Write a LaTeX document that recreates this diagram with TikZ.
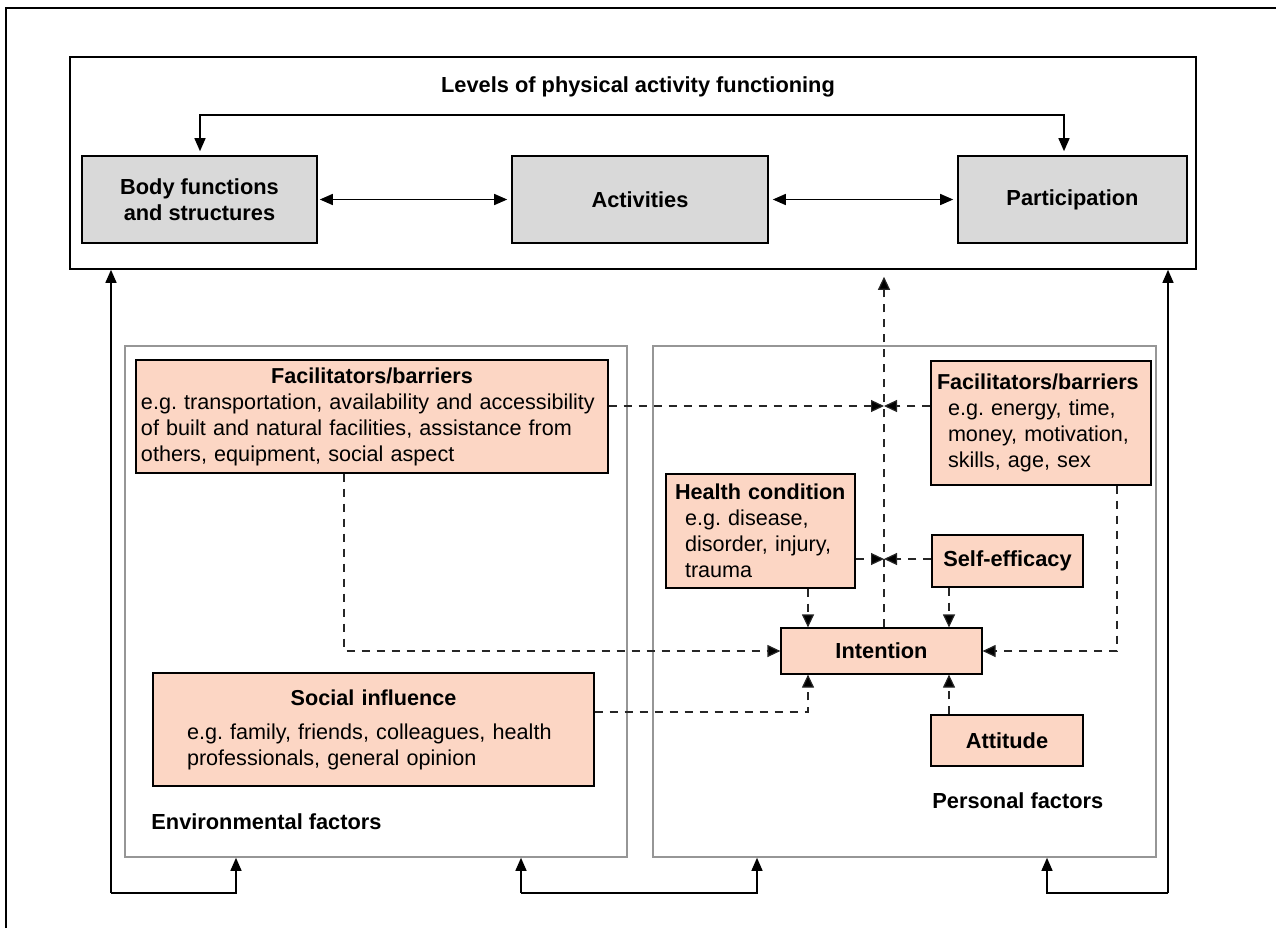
\documentclass[tikz,border=0pt]{standalone}
\usepackage{fontspec}
\setmainfont{Liberation Sans}
\usetikzlibrary{arrows.meta,calc}

\definecolor{levelgrey}{RGB}{217,217,217}
\definecolor{factorpink}{RGB}{252,214,196}
\definecolor{framegrey}{RGB}{150,150,150}

\tikzset{
  labelfont/.style={font=\fontsize{10.9}{13}\selectfont\bfseries},
  levelbox/.style={draw,fill=levelgrey,line width=0.8pt,labelfont,align=center,
    inner sep=0pt,minimum height=43.5pt},
  factorbox/.style={draw,fill=factorpink,line width=0.6pt,inner ysep=2pt,align=left},
  namebox/.style={factorbox,labelfont,align=center,inner sep=0pt},
  groupbox/.style={draw=framegrey,line width=0.8pt,minimum height=255.5pt},
  solidarrow/.style={line width=0.7pt,-{Triangle[length=6.5pt,width=5.5pt]}},
  botharrow/.style={line width=0.7pt,{Triangle[length=6.5pt,width=5.5pt]}-{Triangle[length=6.5pt,width=5.5pt]}},
  dasharrow/.style={line width=0.6pt,draw=black!85,dash pattern=on 4pt off 3.5pt,
    -{Triangle[length=6.5pt,width=6pt,fill=black]}},
}

\begin{document}
\frenchspacing
\hyphenpenalty=10000
\exhyphenpenalty=10000
\begin{tikzpicture}[x=0.5pt,y=-0.5pt,font=\fontsize{10.8}{13}\selectfont]
\useasboundingbox (0,0) rectangle (1276,928);

            \draw[line width=0.8pt] (6,928) -- (6,8) -- (1276,8);

            \coordinate (loop) at (638,115);
            \coordinate (meet1) at (884,406);
            \coordinate (meet2) at (884,559);
            \coordinate (colA) at (808,651);
            \coordinate (colB) at (949,651);
            \coordinate (envcol) at (344,651);
            \coordinate (perscol) at (1117,651);
            \coordinate (socrow) at (594,712);
            \coordinate (foot1) at (111,893);
            \coordinate (foot2) at (236,893);
            \coordinate (foot3) at (521,893);
            \coordinate (foot4) at (757,893);
            \coordinate (foot5) at (1047,893);
            \coordinate (foot6) at (1168,893);

            \node[draw,line width=0.8pt,minimum width=563pt,minimum height=106pt] (levels) at (633,163) {};
            \node[labelfont] (title) at (638,87) {Levels of physical activity functioning};
            \node[levelbox,minimum width=117.5pt] (body) at (199.5,199.5) {Body functions\\and structures};
            \node[levelbox,minimum width=128pt] (act) at (640,199.5) {Activities};
            \node[levelbox,minimum width=114.5pt] (part) at (1072.5,199.5) {Participation};

            \draw[botharrow,shorten <=2pt,shorten >=2pt] ([xshift=0.25pt]body.north) |- (loop) -| ([xshift=-4.25pt]part.north);
            \draw[botharrow,shorten <=1pt,shorten >=2pt] (body) -- (act);
            \draw[botharrow,shorten <=2pt,shorten >=2pt] (act) -- (part);

            \node[groupbox,minimum width=251pt] (env) at (376,601.5) {};
            \node[groupbox,minimum width=251.5pt] (pers) at (904.5,601.5) {};
            \node[labelfont,anchor=west,inner sep=0pt] (envlabel) at (151,822) {Environmental factors};
            \node[labelfont,anchor=west,inner sep=0pt] (perslabel) at (932,801) {Personal factors};

            \node[factorbox,inner xsep=1.5pt,text width=233pt,minimum height=56.5pt] (facenv) at (372,416.5)
              {{\centering\textbf{Facilitators/barriers}\par}
               \hspace*{1pt}e.g. transportation, availability and accessibility\\
               \hspace*{1pt}of built and natural facilities, assistance from\\
               \hspace*{1pt}others, equipment, social aspect};
            \node[factorbox,inner xsep=3pt,text width=104pt,minimum height=62pt] (facpers) at (1041,423)
              {\textbf{Facilitators/barriers}\\
               \hspace*{5.5pt}e.g. energy, time,\\
               \hspace*{5.5pt}money, motivation,\\
               \hspace*{5.5pt}skills, age, sex};
            \node[factorbox,inner xsep=3pt,text width=88.5pt,minimum height=57pt] (health) at (760.5,531)
              {\hspace*{1.5pt}\textbf{Health condition}\\
               \hspace*{6.5pt}e.g. disease,\\
               \hspace*{6.5pt}disorder, injury,\\
               \hspace*{6.5pt}trauma};
            \node[namebox,minimum width=75.5pt,minimum height=26pt] (self) at (1007.5,561) {Self-efficacy};
            \node[namebox,minimum width=100.5pt,minimum height=23pt] (intent) at (881.5,651) {Intention};
            \node[namebox,minimum width=76pt,minimum height=25.5pt] (attitude) at (1007,740.5) {Attitude};
            \node[factorbox,inner xsep=3pt,text width=214.5pt,minimum height=56.5pt] (social) at (373.5,729.5)
              {{\centering\textbf{Social influence}\par}\vspace{4pt}
               \hspace*{14pt}e.g. family, friends, colleagues, health\\
               \hspace*{14pt}professionals, general opinion};

            \draw[dasharrow] (facenv.east |- meet1) -- (meet1);
            \draw[dasharrow] (facpers.west |- meet1) -- (meet1);
            \draw[dasharrow] (health.east |- meet2) -- (meet2);
            \draw[dasharrow] (self.west |- meet2) -- (meet2);
            \draw[dasharrow,shorten >=3.5pt] (intent.north -| meet1) -- (meet1 |- levels.south);
            \draw[dasharrow] (health.south -| colA) -- (intent.north -| colA);
            \draw[dasharrow] (self.south -| colB) -- (intent.north -| colB);
            \draw[dasharrow] (attitude.north -| colB) -- (intent.south -| colB);
            \draw[dasharrow] (social.east |- socrow) -| (intent.south -| colA);
            \draw[dasharrow] (facenv.south -| envcol) |- (intent.west);
            \draw[dasharrow] (facpers.south -| perscol) |- (intent.east);

            \draw[solidarrow] (foot1) -- (foot1 |- levels.south);
            \draw[solidarrow] (foot1) -| (foot2 |- env.south);
            \draw[solidarrow] (foot3) -- (foot3 |- env.south);
            \draw[solidarrow] (foot3) -| (foot4 |- pers.south);
            \draw[solidarrow] (foot6) -- (foot6 |- levels.south);
            \draw[solidarrow] (foot6) -| (foot5 |- pers.south);
        \end{tikzpicture}
\end{document}
